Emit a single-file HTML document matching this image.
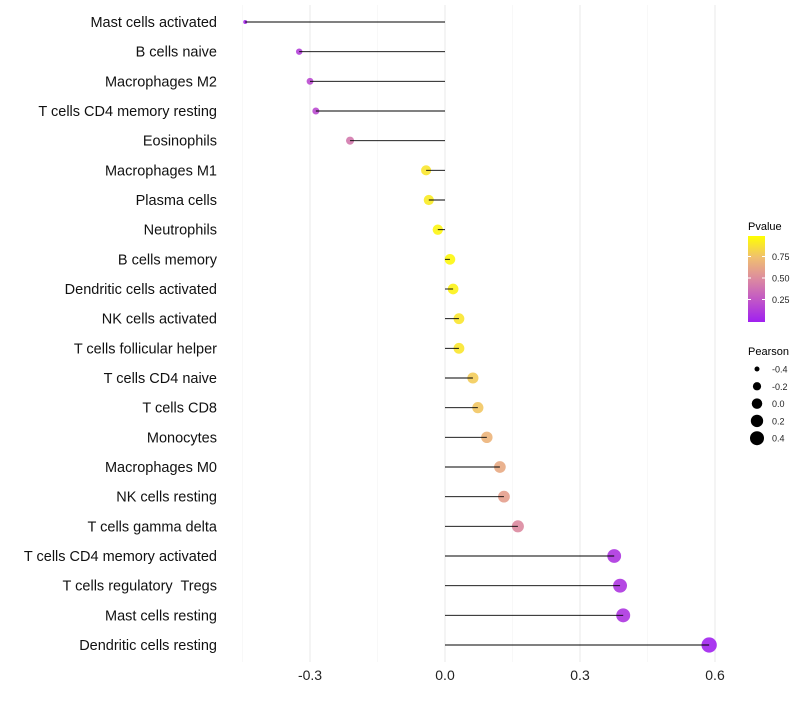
<!DOCTYPE html>
<html><head><meta charset="utf-8"><style>
body{margin:0;background:#fff;font-family:"Liberation Sans",sans-serif}
svg text{font-family:"Liberation Sans",sans-serif;white-space:pre}
</style></head><body>
<svg id="chart" width="800" height="700" xmlns="http://www.w3.org/2000/svg">
<defs><linearGradient id="pg" x1="0" y1="1" x2="0" y2="0">
<stop offset="0" stop-color="#a020f0"/><stop offset="0.25" stop-color="#c055c8"/><stop offset="0.5" stop-color="#dc8aa0"/><stop offset="0.75" stop-color="#f0bf70"/><stop offset="1" stop-color="#ffff00"/></linearGradient></defs>
<g id="grid"></g>
<g id="marks"></g>
<g id="ylabels"></g>
<g id="xlabels"></g>
<g>
<text x="748" y="230" font-size="11" fill="#000">Pvalue</text>
<rect x="748" y="236" width="17" height="86" fill="url(#pg)"/>
<g id="cbticks"></g>
</g>
<g id="sizeleg">
<text x="748" y="355" font-size="11" fill="#000">Pearson</text>
</g>
</svg>
<script>
const categories=["Mast cells activated","B cells naive","Macrophages M2","T cells CD4 memory resting","Eosinophils","Macrophages M1","Plasma cells","Neutrophils","B cells memory","Dendritic cells activated","NK cells activated","T cells follicular helper","T cells CD4 naive","T cells CD8","Monocytes","Macrophages M0","NK cells resting","T cells gamma delta","T cells CD4 memory activated","T cells regulatory  Tregs","Mast cells resting","Dendritic cells resting"];
const pearson=[-0.444,-0.324,-0.3,-0.287,-0.211,-0.042,-0.036,-0.016,0.011,0.018,0.031,0.031,0.062,0.073,0.093,0.122,0.131,0.162,0.376,0.389,0.396,0.587];
const pvalue=[0.04,0.15,0.2,0.2,0.42,0.9,0.92,0.96,0.97,0.95,0.9,0.9,0.8,0.78,0.7,0.65,0.6,0.5,0.1,0.1,0.1,0.01];
const xTicks=[-0.3,0,0.3,0.6];
const xTickLabels=["-0.3","0.0","0.3","0.6"];
const xMinor=[-0.45,-0.15,0.15,0.45];
const cbTicks=[0.25,0.5,0.75];
const sizeLegendVals=[-0.4,-0.2,0,0.2,0.4];
const NS="http://www.w3.org/2000/svg";
const xs=v=>445+v*450;
const ys=i=>22+i*(623/21);
const cb=p=>321-p*86;
const rs=v=>Math.sqrt(Math.max(1,27.6+v*53.4));
function lerp(a,b,t){return a.map((x,i)=>Math.round(x+(b[i]-x)*t));}
const stops=[[160,32,240],[192,85,200],[220,138,160],[240,191,112],[255,255,0]];
function col(p){p=Math.max(0,Math.min(1,p));const s=p*4,i=Math.min(3,Math.floor(s));const c=lerp(stops[i],stops[i+1],s-i);return`rgb(${c})`;}
function mk(tag,at,parent){const e=document.createElementNS(NS,tag);for(const k in at)e.setAttribute(k,at[k]);parent.appendChild(e);return e;}
const grid=document.getElementById('grid'),marks=document.getElementById('marks'),yl=document.getElementById('ylabels'),xl=document.getElementById('xlabels');
xMinor.forEach(v=>{const l=mk('line',{x1:xs(v),x2:xs(v),y1:5,y2:662,stroke:'#f3f3f3','stroke-width':0.6},grid);

});
xTicks.forEach((v,i)=>{const l=mk('line',{x1:xs(v),x2:xs(v),y1:5,y2:662,stroke:'#ebebeb','stroke-width':1.1},grid);


const t=mk('text',{x:xs(v),y:680,'font-size':14,'text-anchor':'middle',fill:'#222'},xl);t.textContent=xTickLabels[i];

});
categories.forEach((c,i)=>{const y=ys(i);
const p=mk('circle',{cx:xs(pearson[i]),cy:y,r:rs(pearson[i]),fill:col(pvalue[i]),'fill-opacity':0.9},marks);


const s=mk('line',{x1:xs(0),x2:xs(pearson[i]),y1:y,y2:y,stroke:'#000','stroke-width':0.9},marks);


const t=mk('text',{x:217,y:y+5,'font-size':14.5,'text-anchor':'end',fill:'#111'},yl);t.textContent=c;

});
const cbg=document.getElementById('cbticks');
cbTicks.forEach(p=>{const y=cb(p);mk('line',{x1:748,x2:751,y1:y,y2:y,stroke:'#fff'},cbg);mk('line',{x1:762,x2:765,y1:y,y2:y,stroke:'#fff'},cbg);
const t=mk('text',{x:772,y:y+3.5,'font-size':9,fill:'#222'},cbg);t.textContent=p.toFixed(2);

});
const sl=document.getElementById('sizeleg');
sizeLegendVals.forEach((v,i)=>{const y=369+i*17.3;
const c=mk('circle',{cx:757,cy:y,r:rs(v),fill:'#000'},sl);


const t=mk('text',{x:772,y:y+3.5,'font-size':9,fill:'#222'},sl);t.textContent=v.toFixed(1);

});
</script>
</body></html>
